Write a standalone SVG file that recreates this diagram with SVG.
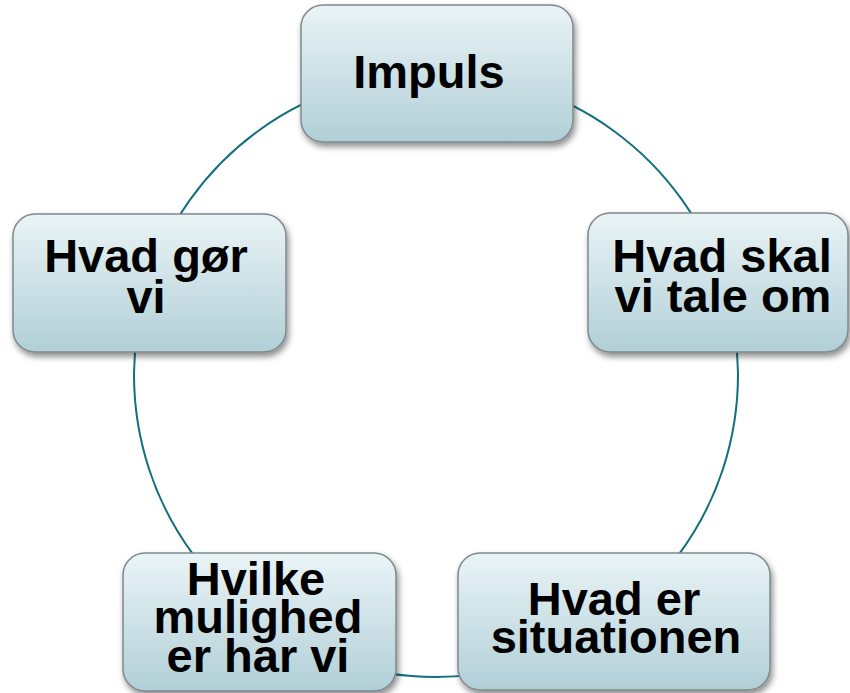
<svg xmlns="http://www.w3.org/2000/svg" width="850" height="693" viewBox="0 0 850 693">
<defs>
<linearGradient id="g" x1="0" y1="0" x2="0" y2="1">
<stop offset="0" stop-color="#eaf4f6"/>
<stop offset="1" stop-color="#b1cfd7"/>
</linearGradient>
<filter id="sh" x="-10%" y="-10%" width="125%" height="130%">
<feDropShadow dx="2" dy="4" stdDeviation="3" flood-color="#000" flood-opacity="0.45"/>
</filter>
</defs>
<style>
.box{fill:url(#g);stroke:#7d898c;stroke-width:1.5;filter:url(#sh)}
.t{font-family:"Liberation Sans",Arial,sans-serif;font-weight:bold;font-size:47px;fill:#000;text-anchor:middle}
.c{fill:none;stroke:#12707e;stroke-width:2}
</style>
<rect width="850" height="693" fill="#fff"/>
<g id="connectors">
<path class="c" d="M436,73 A302,302 0 0 1 723.2,281.7"/>
<path class="c" d="M723.2,281.7 A302,302 0 0 1 613.5,619.3"/>
<path class="c" d="M613.5,619.3 A302,302 0 0 1 258.5,619.3"/>
<path class="c" d="M258.5,619.3 A302,302 0 0 1 148.8,281.7"/>
<path class="c" d="M148.8,281.7 A302,302 0 0 1 436,73"/>
</g>
<g id="node-impuls">
<rect class="box" x="301" y="5" width="272" height="137" rx="22"/>
<text class="t" x="429" y="88">Impuls</text>
</g>
<g id="node-hvad-skal">
<rect class="box" x="588" y="213" width="260" height="139" rx="22"/>
<text class="t" x="722" y="272">Hvad skal</text>
<text class="t" x="723" y="312">vi tale om</text>
</g>
<g id="node-situationen">
<rect class="box" x="458" y="553" width="312" height="137" rx="22"/>
<text class="t" x="614" y="615">Hvad er</text>
<text class="t" x="616" y="653">situationen</text>
</g>
<g id="node-muligheder">
<rect class="box" x="123" y="553" width="273" height="138" rx="22"/>
<text class="t" x="256" y="595">Hvilke</text>
<text class="t" x="258" y="633">mulighed</text>
<text class="t" x="258" y="672">er har vi</text>
</g>
<g id="node-hvad-gor">
<rect class="box" x="13" y="214" width="273" height="138" rx="22"/>
<text class="t" x="146" y="272">Hvad gør</text>
<text class="t" x="146" y="313">vi</text>
</g>
</svg>
